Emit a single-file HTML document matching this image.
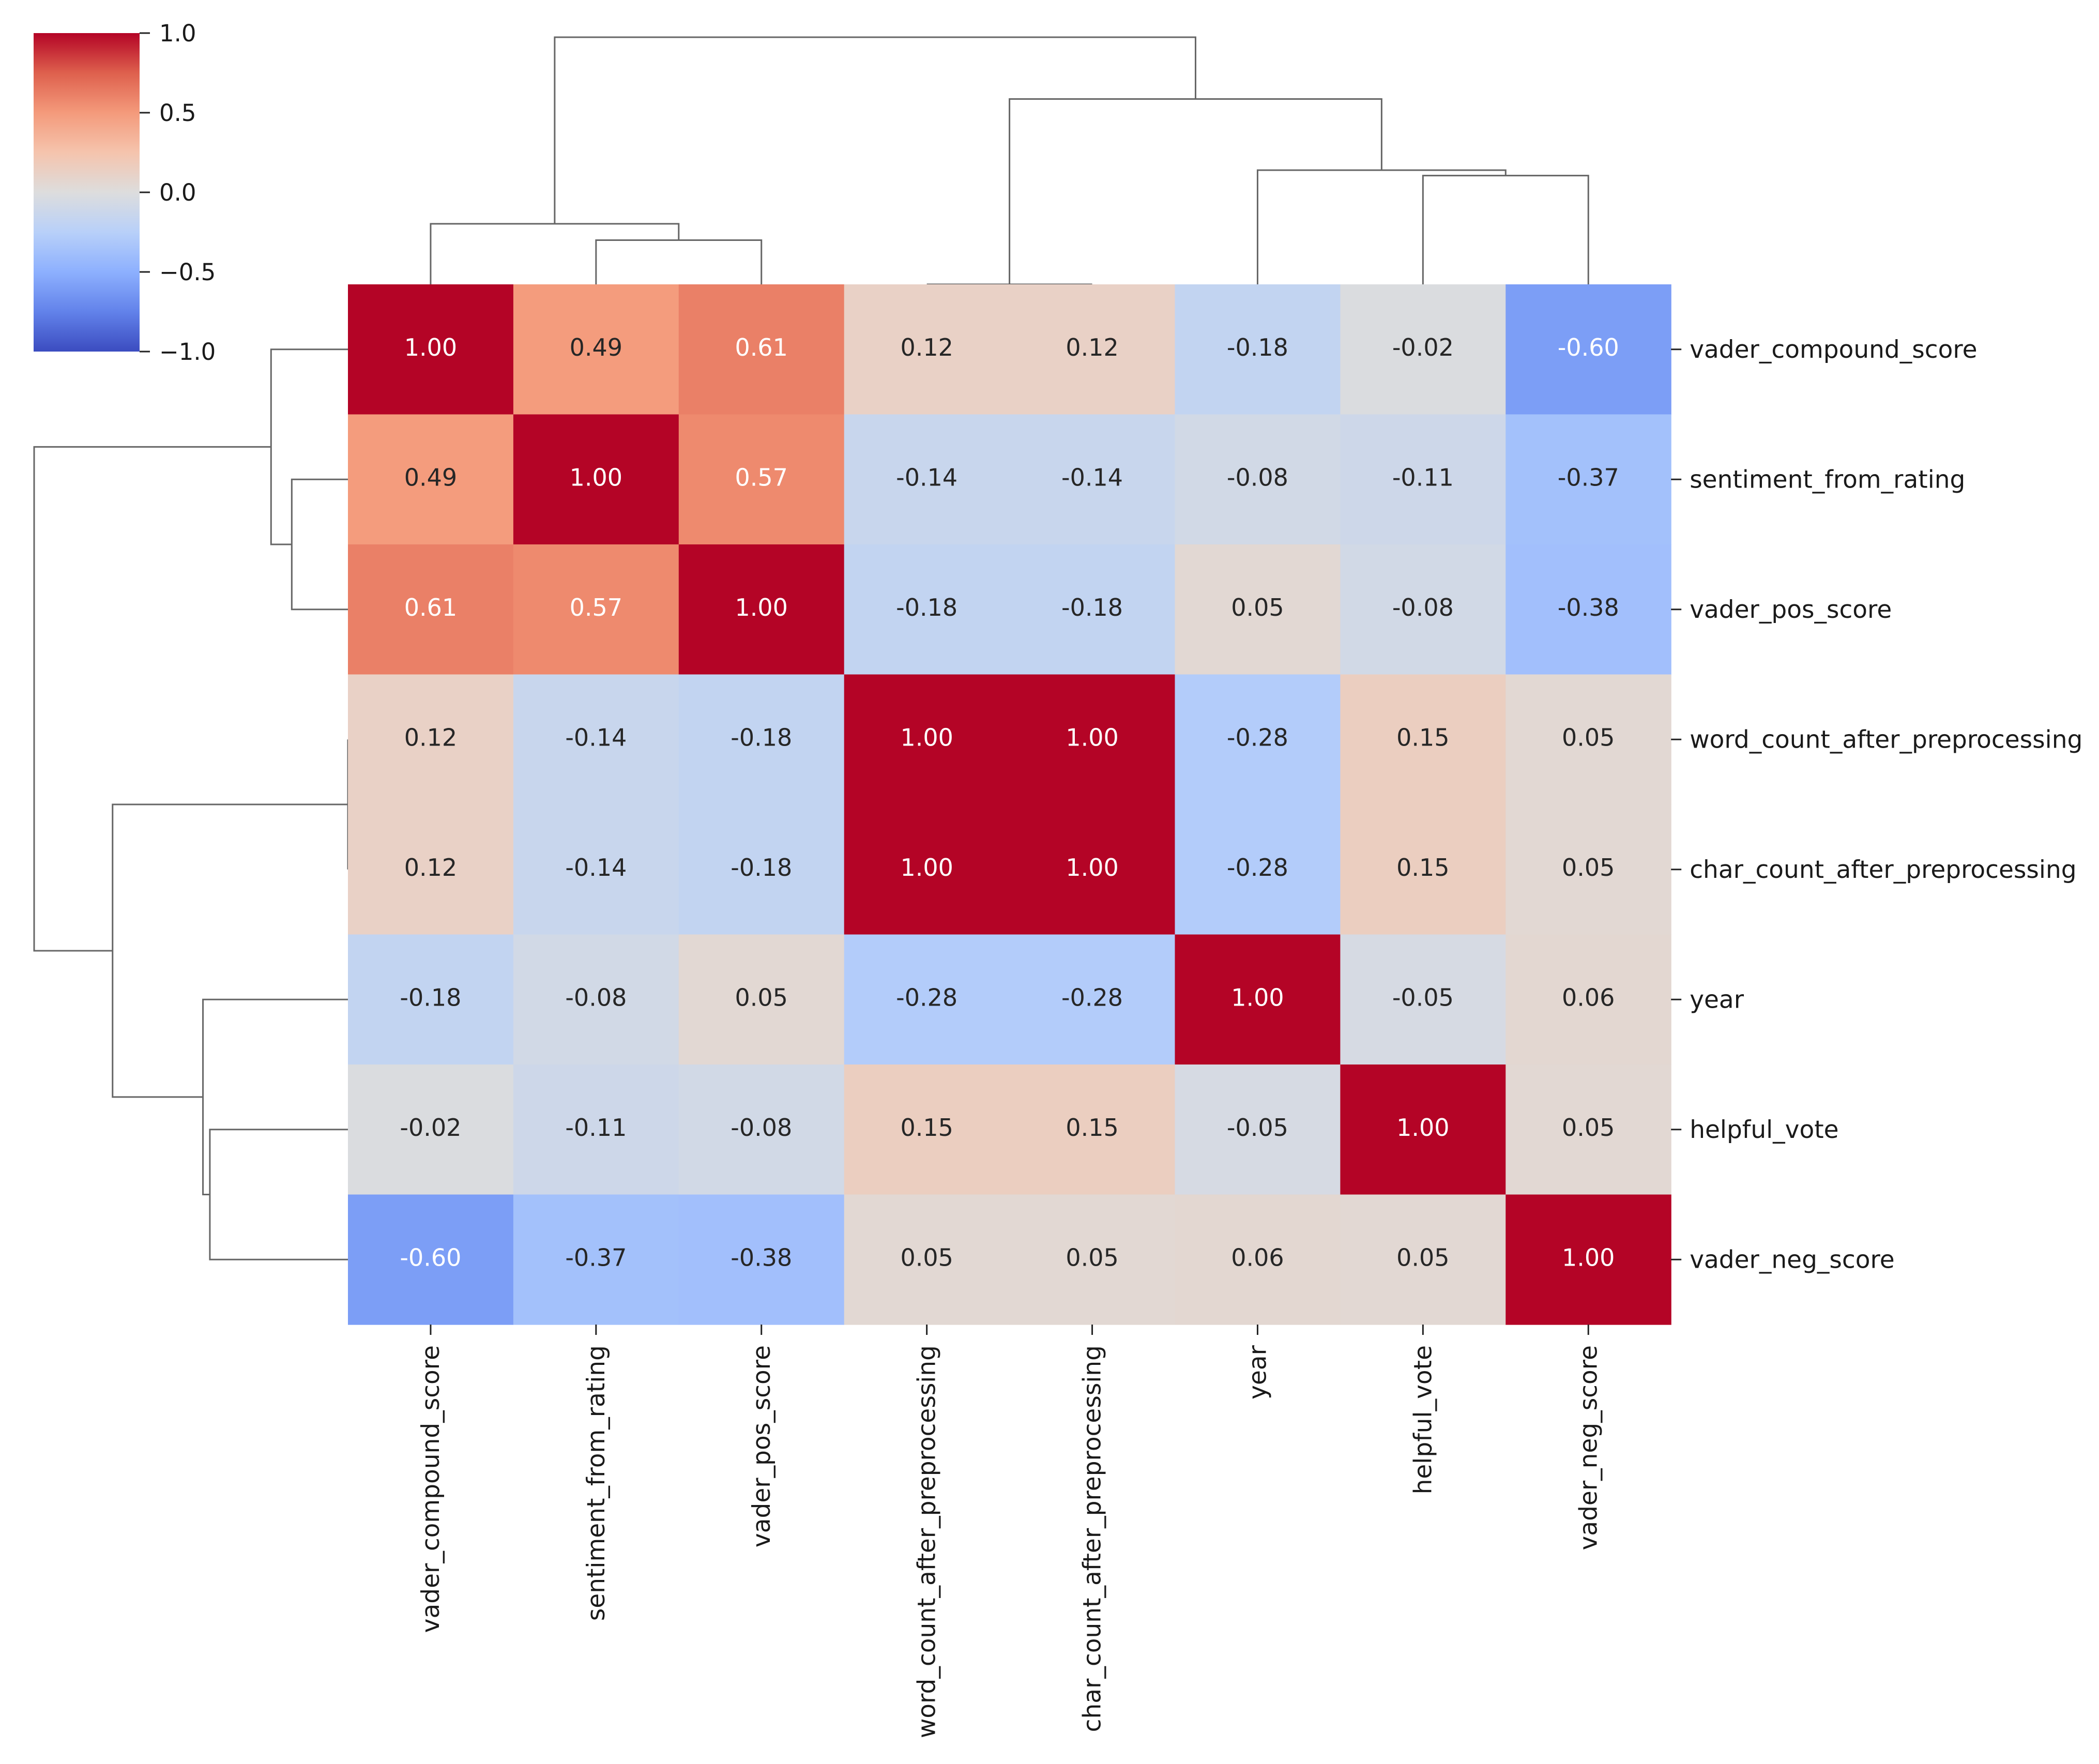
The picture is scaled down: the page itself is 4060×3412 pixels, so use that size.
<!DOCTYPE html>
<html><head><meta charset="utf-8"><style>
html,body{margin:0;padding:0;background:#fff;}
svg{display:block;font-family:"DejaVu Sans","Liberation Sans",sans-serif;}
</style></head>
<body>
<svg id="chart" xmlns="http://www.w3.org/2000/svg" width="4060" height="3412" viewBox="0 0 4060 3412">
<defs>
<linearGradient id="cbgrad" x1="0" y1="1" x2="0" y2="0">
<stop offset="0" stop-color="rgb(59,76,192)"/>
<stop offset="0.125" stop-color="rgb(98,130,234)"/>
<stop offset="0.25" stop-color="rgb(141,176,254)"/>
<stop offset="0.375" stop-color="rgb(184,208,249)"/>
<stop offset="0.5" stop-color="rgb(221,221,221)"/>
<stop offset="0.625" stop-color="rgb(245,196,173)"/>
<stop offset="0.75" stop-color="rgb(244,154,123)"/>
<stop offset="0.875" stop-color="rgb(222,96,77)"/>
<stop offset="1" stop-color="rgb(180,4,38)"/>
</linearGradient>
</defs>
<g id="dendTop"></g>
<g id="dendLeft"></g>
<g id="heat"></g>
<g id="cbar"></g>
</svg>
<script>
const labels = ["vader_compound_score","sentiment_from_rating","vader_pos_score","word_count_after_preprocessing","char_count_after_preprocessing","year","helpful_vote","vader_neg_score"];
const row0 = [1.00,0.49,0.61,0.12,0.12,-0.18,-0.02,-0.60];
const row1 = [0.49,1.00,0.57,-0.14,-0.14,-0.08,-0.11,-0.37];
const row2 = [0.61,0.57,1.00,-0.18,-0.18,0.05,-0.08,-0.38];
const row3 = [0.12,-0.14,-0.18,1.00,1.00,-0.28,0.15,0.05];
const row4 = [0.12,-0.14,-0.18,1.00,1.00,-0.28,0.15,0.05];
const row5 = [-0.18,-0.08,0.05,-0.28,-0.28,1.00,-0.05,0.06];
const row6 = [-0.02,-0.11,-0.08,0.15,0.15,-0.05,1.00,0.05];
const row7 = [-0.60,-0.37,-0.38,0.05,0.05,0.06,0.05,1.00];
const matrix = [row0,row1,row2,row3,row4,row5,row6,row7];
// linkage: [childA, childB, height] ; leaves 0..7, clusters 8+
const linkA = [1,0,3,6,5,10,9];
const linkB = [2,8,4,7,11,12,13];
const linkH = [0.179,0.245,0,0.44,0.462,0.75,1.0];
const cbTicks = [1.0,0.5,0.0,-0.5,-1.0];
const cbTickLabels = ["1.0","0.5","0.0","\u22120.5","\u22121.0"];

const NS="http://www.w3.org/2000/svg";
const HX=673, HY=550, CW=319.9, RH=251.5, N=8;
const TOPBASE=550, TOPH=478, LEFTBASE=673, LEFTW=607;
function mk(tag,attrs,parent){const e=document.createElementNS(NS,tag);for(const k in attrs)e.setAttribute(k,attrs[k]);parent.appendChild(e);return e;}
const stops=[[59,76,192],[98,130,234],[141,176,254],[184,208,249],[221,221,221],[245,196,173],[244,154,123],[222,96,77],[180,4,38]];
function cmap(v){let t=(v+1)/2*8;t=Math.max(0,Math.min(8,t));const i=Math.min(7,Math.floor(t)),f=t-i;const a=stops[i],b=stops[i+1];return [0,1,2].map(k=>Math.round(a[k]+(b[k]-a[k])*f));}
function lum(c){const l=c.map(x=>{x/=255;return x<=0.03928?x/12.92:Math.pow((x+0.055)/1.055,2.4);});return 0.2126*l[0]+0.7152*l[1]+0.0722*l[2];}
const xOf=j=>HX+(j+0.5)*CW, yOf=i=>HY+(i+0.5)*RH;

const heat=document.getElementById('heat');
for(let i=0;i<N;i++)for(let j=0;j<N;j++){
  const v=matrix[i][j],c=cmap(v);
  const r=mk('rect',{x:HX+j*CW,y:HY+i*RH,width:CW+0.6,height:RH+0.6,fill:`rgb(${c})`},heat);
  
  
  const t=mk('text',{x:xOf(j),y:yOf(i)+12,'text-anchor':'middle','font-size':'46',fill:lum(c)<0.408?'#fff':'#262626'},heat);
  t.textContent=v.toFixed(2);
  
  
}
for(let i=0;i<N;i++){
  mk('line',{x1:HX+N*CW,x2:HX+N*CW+20,y1:yOf(i),y2:yOf(i),stroke:'#222','stroke-width':3},heat);
  const t=mk('text',{x:HX+N*CW+36,y:yOf(i)+16,'font-size':'47',fill:'#1a1a1a'},heat);
  t.textContent=labels[i];
  
  
  const bx=xOf(i),by=HY+N*RH;
  mk('line',{x1:bx,x2:bx,y1:by,y2:by+20,stroke:'#222','stroke-width':3},heat);
  const t2=mk('text',{x:0,y:0,'font-size':'47',fill:'#1a1a1a','text-anchor':'end',transform:`translate(${bx+16},${by+40}) rotate(-90)`},heat);
  t2.textContent=labels[i];
  
  
}
// dendrograms
const pos={},hgt={};
for(let i=0;i<N;i++){pos[i]=i;hgt[i]=0;}
const dt=document.getElementById('dendTop'),dl=document.getElementById('dendLeft');
for(let k=0;k<linkA.length;k++){
  const a=linkA[k],b=linkB[k],h=linkH[k],id=N+k;
  pos[id]=(pos[a]+pos[b])/2;hgt[id]=h;
  const xa=HX+(pos[a]+0.5)*CW, xb=HX+(pos[b]+0.5)*CW;
  const ya=TOPBASE-hgt[a]*TOPH, yb=TOPBASE-hgt[b]*TOPH, yh=TOPBASE-h*TOPH;
  const p=mk('path',{d:`M${xa},${ya}V${yh}H${xb}V${yb}`,fill:'none',stroke:'#666','stroke-width':3},dt);
  
  
  const ra=HY+(pos[a]+0.5)*RH, rb=HY+(pos[b]+0.5)*RH;
  const la=LEFTBASE-hgt[a]*LEFTW, lb=LEFTBASE-hgt[b]*LEFTW, lh=LEFTBASE-h*LEFTW;
  const q=mk('path',{d:`M${la},${ra}H${lh}V${rb}H${lb}`,fill:'none',stroke:'#666','stroke-width':3},dl);
  
  
}
// colorbar
const cb=document.getElementById('cbar');
const CBX=65,CBY=64,CBW=205,CBH=616;
const cr=mk('rect',{x:CBX,y:CBY,width:CBW,height:CBH,fill:'url(#cbgrad)'},cb);


cbTicks.forEach((v,i)=>{
  const y=CBY+(1-v)/2*CBH;
  mk('line',{x1:CBX+CBW,x2:CBX+CBW+20,y1:y,y2:y,stroke:'#222','stroke-width':3},cb);
  const t=mk('text',{x:CBX+CBW+38,y:y+16,'font-size':'45',fill:'#1a1a1a'},cb);
  t.textContent=cbTickLabels[i];
  
  
});
</script>
</body></html>
